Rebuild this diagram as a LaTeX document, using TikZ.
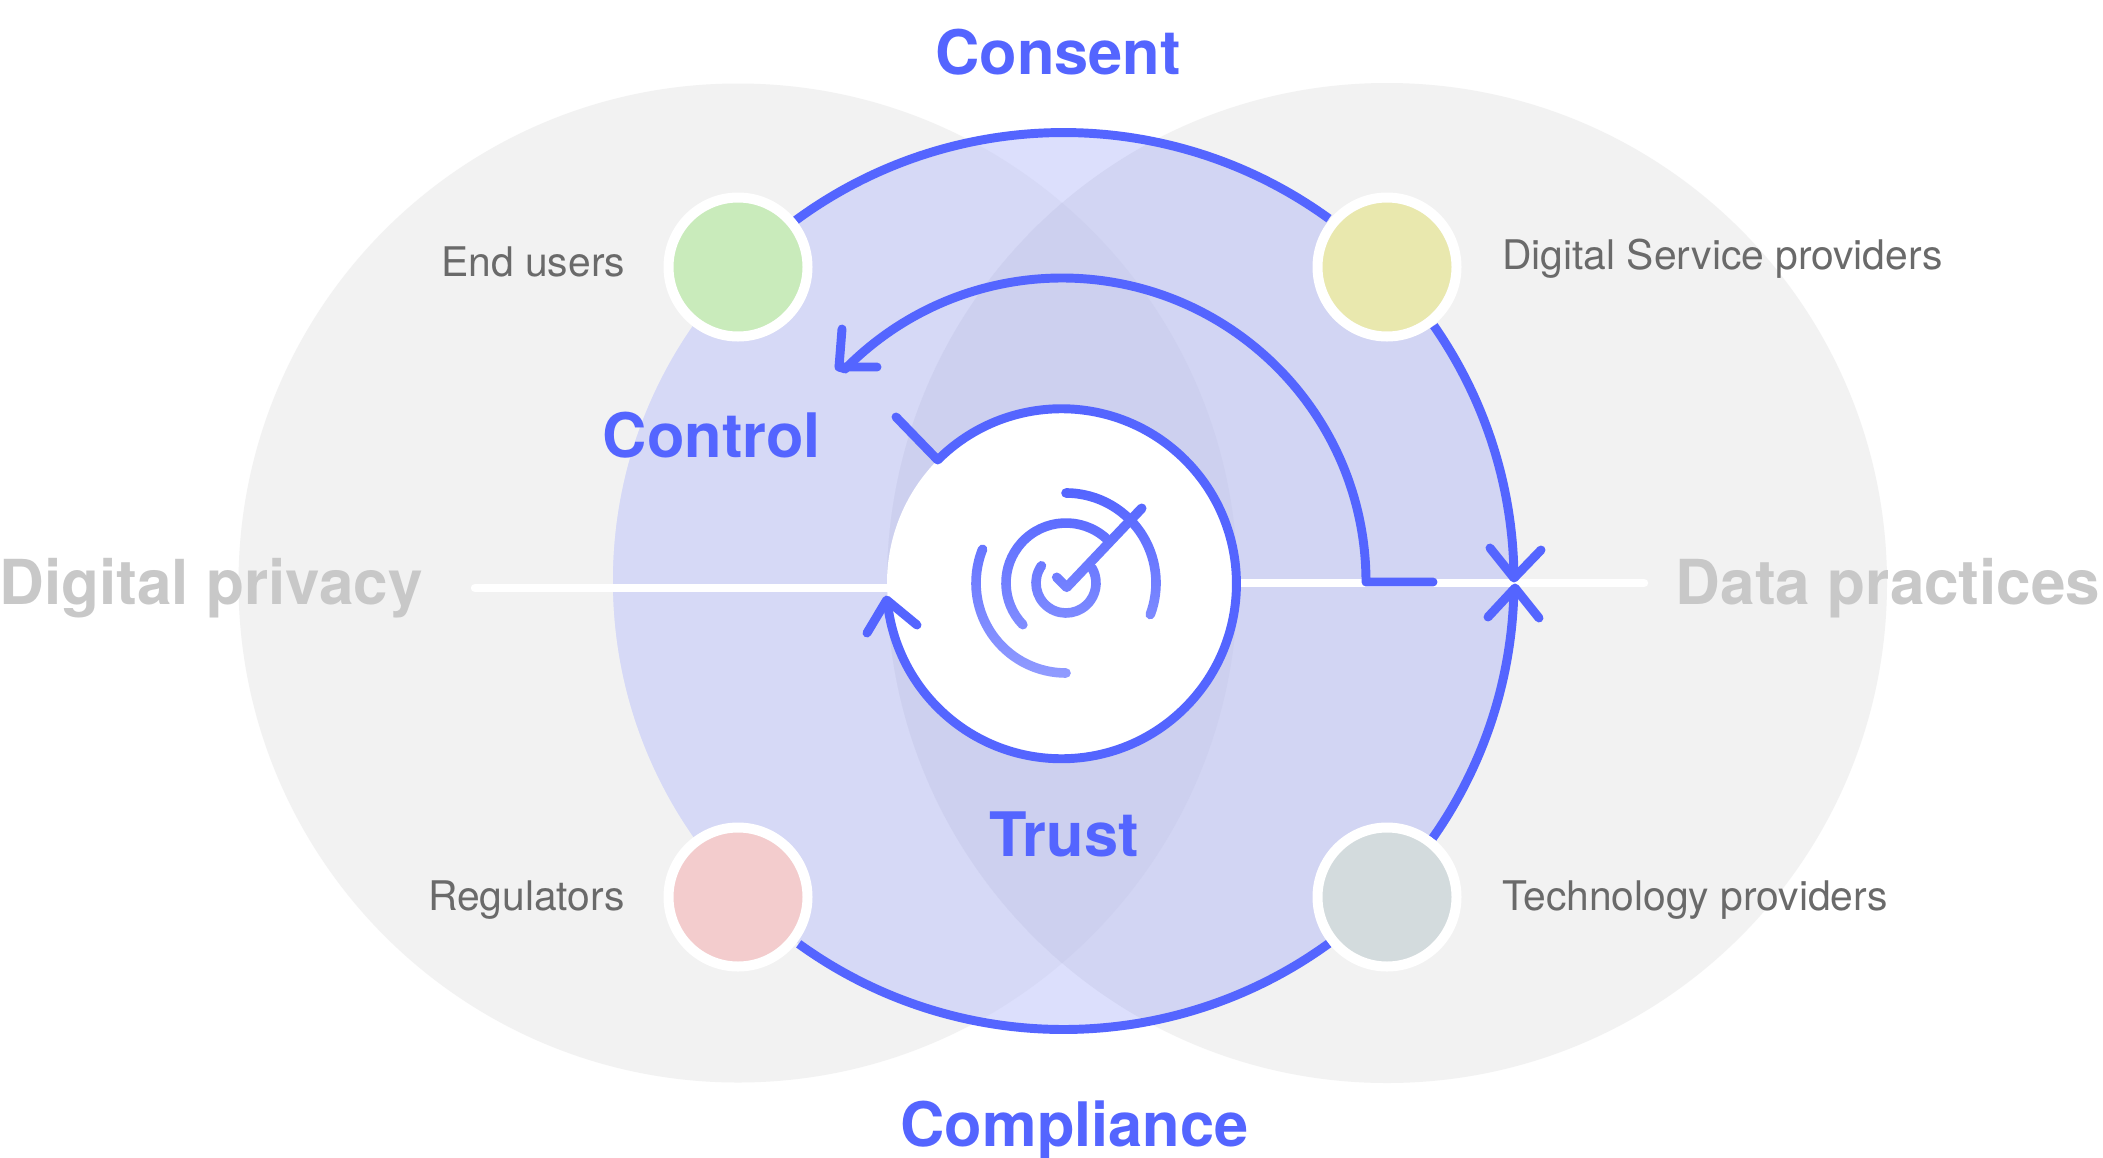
\documentclass[tikz,border=0pt]{standalone}
\usepackage{fontspec}
\setmainfont{TeX Gyre Heros}
\usetikzlibrary{fadings}
\definecolor{bluemain}{HTML}{5465FF}
\definecolor{greyc}{HTML}{F2F2F2}
\definecolor{bluebase}{HTML}{DCDFFC}
\definecolor{blueleft}{HTML}{D6D9F6}
\definecolor{blueright}{HTML}{D2D5F3}
\definecolor{bluelens}{HTML}{CDD0EF}
\definecolor{greylens}{HTML}{E6E6E6}
\definecolor{labelgrey}{HTML}{6A6A6A}
\definecolor{titlegrey}{HTML}{C8C8C8}
\definecolor{pgreen}{HTML}{C9EBBB}
\definecolor{pyellow}{HTML}{E9E8AE}
\definecolor{ppink}{HTML}{F3CCCD}
\definecolor{pslate}{HTML}{D3DBDD}
\tikzfading[name=iconfade,top color=transparent!100,bottom color=transparent!62]
\tikzset{
  x=0.75pt,y=0.75pt,
  bline/.style={draw=bluemain,line width=6.7pt,line cap=round,line join=round},
  oarc/.style={draw=bluemain,line width=6.7pt,line cap=butt},
  wline/.style={draw=white,line width=6.3pt,line cap=round},
  iconline/.style={draw=bluemain,line width=7.2pt,line cap=round,line join=round},
  person/.style={circle,draw=white,line width=7.5pt,minimum size=104.25pt,inner sep=0pt},
  bigt/.style={text=bluemain,font=\fontsize{46}{50}\selectfont\bfseries,inner sep=0pt,anchor=base},
  greyt/.style={text=titlegrey,font=\fontsize{46.5}{50}\selectfont\bfseries,inner sep=0pt,anchor=base},
  smallt/.style={text=labelgrey,font=\fontsize{30.6}{34}\selectfont,inner sep=0pt},
}
\begin{document}
\begin{tikzpicture}
\useasboundingbox (0,-1157) rectangle (2103,0);
\fill[white] (0,-1157) rectangle (2103,0);
\coordinate (L) at (738,-583);
\coordinate (R) at (1387,-583);
\coordinate (C) at (1063.5,-581);
\coordinate (M) at (1062,-583);
\coordinate (I) at (1066,-583);
% grey circles
\fill[greyc] (L) circle[radius=499.5];
\fill[greyc] (R) circle[radius=500];
\begin{scope}
  \clip (L) circle[radius=499.5];
  \fill[greylens] (R) circle[radius=500];
\end{scope}
% large blue disc
\fill[bluebase] (C) ellipse[x radius=450.5,y radius=448.5];
\begin{scope}
  \clip (C) ellipse[x radius=450.5,y radius=448.5];
  \fill[blueleft] (L) circle[radius=499.5];
  \fill[blueright] (R) circle[radius=500];
  \clip (L) circle[radius=499.5];
  \fill[bluelens] (R) circle[radius=500];
\end{scope}
% white lines
\coordinate (wl1) at (475,-588);
\coordinate (wl2) at (1000,-588);
\coordinate (wr1) at (1150,-583);
\coordinate (wr2) at (1644,-583);
\draw[wline] (wl1) -- (wl2);
\draw[wline] (wr1) -- (wr2);
% centre circle
\node[circle,fill=white,minimum size=262.5pt,inner sep=0pt] (centre) at (M) {};
% icon
\begin{scope}
  \draw[iconline] (I) ++(90:90) arc[start angle=90,end angle=-20.5,radius=90];
  \draw[iconline] (I) ++(158:90) arc[start angle=158,end angle=270,radius=90];
  \draw[iconline] (I) ++(48:60) arc[start angle=48,end angle=224,radius=60];
  \draw[iconline] (I) ++(145:30) arc[start angle=145,end angle=390,radius=30];
  \coordinate (t1) at (1056.7,-577.3);
  \coordinate (t2) at (1066.7,-587.3);
  \coordinate (t3) at (1141.7,-508.3);
  \draw[iconline] (t1) -- (t2) -- (t3);
  \fill[white,path fading=iconfade] (960,-490) rectangle (1170,-690);
\end{scope}
% centre ring
\coordinate (ca) at (896,-417);
\coordinate (cb) at (937.7,-460);
\coordinate (cd) at (886.7,-600);
\coordinate (ce) at (867,-633);
\coordinate (cf) at (917,-625);
\draw[bline] (ca) -- (cb) arc[start angle=135,end angle=-174.3,radius=175];
\draw[bline] (ce) -- (cd) -- (cf);
% inner arc
\coordinate (ia) at (1433,-582);
\coordinate (ib) at (1366,-582);
\coordinate (ic) at (839,-367);
\coordinate (id) at (842,-329);
\coordinate (ie) at (877,-367);
\draw[bline] (ia) -- (ib) arc[start angle=0,end angle=135.5,radius=304] -- (ic);
\draw[bline] (id) -- (ic) -- (ie);
% outer arcs
\draw[oarc] (C) ++(126.7:450.5 and 448.5) arc[start angle=126.7,end angle=53.9,x radius=450.5,y radius=448.5];
\draw[oarc] (C) ++(-53.9:450.5 and 448.5) arc[start angle=-53.9,end angle=-126,x radius=450.5,y radius=448.5];
\draw[oarc] (C) ++(34.7:450.5 and 448.5) arc[start angle=34.7,end angle=0.4,x radius=450.5,y radius=448.5];
\draw[oarc] (C) ++(-35:450.5 and 448.5) arc[start angle=-35,end angle=-0.9,x radius=450.5,y radius=448.5];
% arrowheads on the right
\coordinate (a1) at (1490,-548);
\coordinate (a2) at (1514,-578);
\coordinate (a3) at (1541,-550);
\coordinate (b1) at (1488,-617);
\coordinate (b2) at (1515,-588);
\coordinate (b3) at (1539,-618);
\draw[bline] (a1) -- (a2) -- (a3);
\draw[bline] (b1) -- (b2) -- (b3);
% stakeholders
\node[person,fill=pgreen] (users) at (738,-267) {};
\node[person,fill=pyellow] (service) at (1387,-267) {};
\node[person,fill=ppink] (regulators) at (738,-897) {};
\node[person,fill=pslate] (tech) at (1387,-897) {};
% labels
\node[bigt] (consent) at (1058,-74) {Consent};
\node[bigt] (compliance) at (1074.5,-1146) {Compliance};
\node[bigt] (control) at (712,-457.5) {Control};
\node[bigt] (trust) at (1064,-856.5) {Trust};
\node[greyt] (privacy) at (211,-604) {Digital privacy};
\node[greyt] (practices) at (1888,-604) {Data practices};
\node[smallt,anchor=base east] (lusers) at (625.5,-276) {End users};
\node[smallt,anchor=base west] (lservice) at (1502,-269) {Digital Service providers};
\node[smallt,anchor=base east] (lreg) at (625,-910) {Regulators};
\node[smallt,anchor=base west] (ltech) at (1502,-910) {Technology providers};
\end{tikzpicture}
\end{document}
